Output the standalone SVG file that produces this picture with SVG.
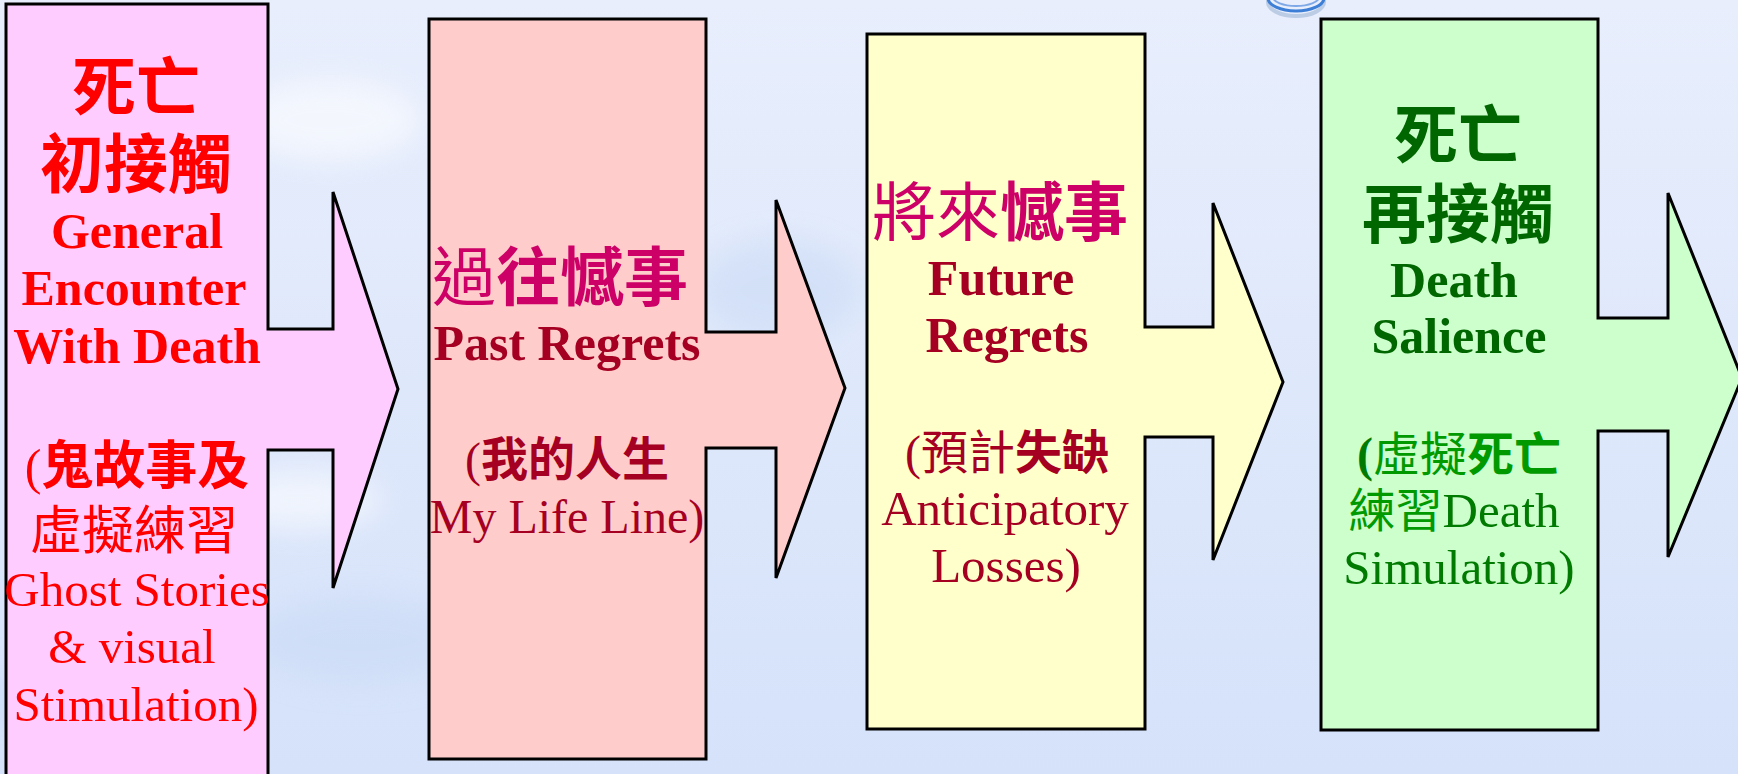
<svg xmlns="http://www.w3.org/2000/svg" width="1738" height="774" viewBox="0 0 1738 774">
<defs>
<linearGradient id="bg" x1="0" y1="0" x2="0" y2="1">
<stop offset="0" stop-color="#e8eefc"/>
<stop offset="1" stop-color="#d5e2fa"/>
</linearGradient>
<filter id="blur" x="-50%" y="-50%" width="200%" height="200%"><feGaussianBlur stdDeviation="14"/></filter>
</defs>
<style>
.shape{stroke:#000;stroke-width:3;stroke-linejoin:miter}
.cjk{font-family:"Noto Sans CJK TC","Noto Sans CJK SC",sans-serif;text-anchor:middle}
.en{font-family:"Liberation Serif","DejaVu Serif",serif;text-anchor:middle}
.b{font-weight:bold}
.n{font-weight:normal}
.t64{font-size:64px}
.s50{font-size:50px}
.s49{font-size:49px}
.red{fill:#ff0000}
.mag{fill:#cc0066}
.dred{fill:#a50021}
.dgrn{fill:#006600}
.grn{fill:#009900}
.mgrn{fill:#007a00}
</style>
<rect x="0" y="0" width="1738" height="774" fill="url(#bg)"/>
<g filter="url(#blur)" opacity="0.55">
<ellipse cx="330" cy="120" rx="90" ry="40" fill="#ffffff"/>
<ellipse cx="360" cy="640" rx="110" ry="45" fill="#c9daf5"/>
<ellipse cx="780" cy="290" rx="80" ry="50" fill="#c9daf5"/>
<ellipse cx="60" cy="700" rx="90" ry="40" fill="#c9daf5"/>
<ellipse cx="300" cy="500" rx="80" ry="30" fill="#ffffff"/>
</g>
<ellipse cx="1296" cy="0" rx="28" ry="14" fill="none" stroke="#9fb6d6" stroke-width="4" opacity="0.6" transform="translate(0,2)"/>
<ellipse cx="1296" cy="-2" rx="28" ry="13" fill="none" stroke="#3d7fd6" stroke-width="3"/>
<ellipse cx="1296" cy="-3" rx="23" ry="9" fill="none" stroke="#7fa9e6" stroke-width="2"/>

<g id="connectors"></g>

<g id="node1">
<path class="shape" fill="#ffccff" d="M6,4 H268 V329 H333 V192 L398,389 L333,588 V450 H268 V800 H6 Z"/>
<text class="cjk b t64 red" x="136" y="110">死亡</text>
<text class="cjk b t64 red" x="136" y="187">初接觸</text>
<text class="en b s50 red" x="137" y="248">General</text>
<text class="en b s50 red" x="134" y="305">Encounter</text>
<text class="en b s50 red" x="137" y="363">With Death</text>
<text class="cjk b red" x="137" y="484" font-size="52"><tspan class="en n" font-size="50">(</tspan>鬼故事及</text>
<text class="cjk n red" x="134" y="549" font-size="52">虛擬練習</text>
<text class="en n s49 red" x="137" y="606">Ghost Stories</text>
<text class="en n s49 red" x="132" y="663">&amp; visual</text>
<text class="en n s49 red" x="136" y="721">Stimulation)</text>
</g>

<g id="node2">
<path class="shape" fill="#ffcccc" d="M429,19 H706 V332 H776 V200 L845,388 L776,578 V448 H706 V759 H429 Z"/>
<text class="cjk t64 mag" x="560" y="300"><tspan class="n">過</tspan><tspan class="b">往憾事</tspan></text>
<text class="en b s50 dred" x="567" y="360">Past Regrets</text>
<text class="cjk b dred" x="567" y="476" font-size="47"><tspan class="en n" font-size="48">(</tspan>我的人生</text>
<text class="en n dred" x="567" y="533" font-size="48">My Life Line)</text>
</g>

<g id="node3">
<path class="shape" fill="#ffffcc" d="M867,34 H1145 V327 H1213 V203 L1283,382 L1213,560 V437 H1145 V729 H867 Z"/>
<text class="cjk t64 mag" x="1000" y="235"><tspan class="n">將來</tspan><tspan class="b">憾事</tspan></text>
<text class="en b s50 dred" x="1001" y="295">Future</text>
<text class="en b s50 dred" x="1007" y="352">Regrets</text>
<text class="cjk dred" x="1007" y="469" font-size="47"><tspan class="en n" font-size="48">(</tspan><tspan class="n">預計</tspan><tspan class="b">失缺</tspan></text>
<text class="en n s49 dred" x="1005" y="525">Anticipatory</text>
<text class="en n s49 dred" x="1006" y="582">Losses)</text>
</g>

<g id="node4">
<path class="shape" fill="#ccffcc" d="M1321,19 H1598 V318 H1668 V193 L1742,378 L1668,557 V431 H1598 V730 H1321 Z"/>
<text class="cjk b t64 dgrn" x="1458" y="158">死亡</text>
<text class="cjk b t64 dgrn" x="1458" y="237">再接觸</text>
<text class="en b s50 dgrn" x="1454" y="297">Death</text>
<text class="en b s50 dgrn" x="1459" y="353">Salience</text>
<text class="cjk grn" x="1459" y="471" font-size="47"><tspan class="en b mgrn" font-size="48">(</tspan><tspan class="n">虛擬</tspan><tspan class="b">死亡</tspan></text>
<text class="cjk n grn" x="1454" y="527" font-size="47">練習<tspan class="en mgrn" font-size="49">Death</tspan></text>
<text class="en n s49 mgrn" x="1459" y="584">Simulation)</text>
</g>
</svg>
